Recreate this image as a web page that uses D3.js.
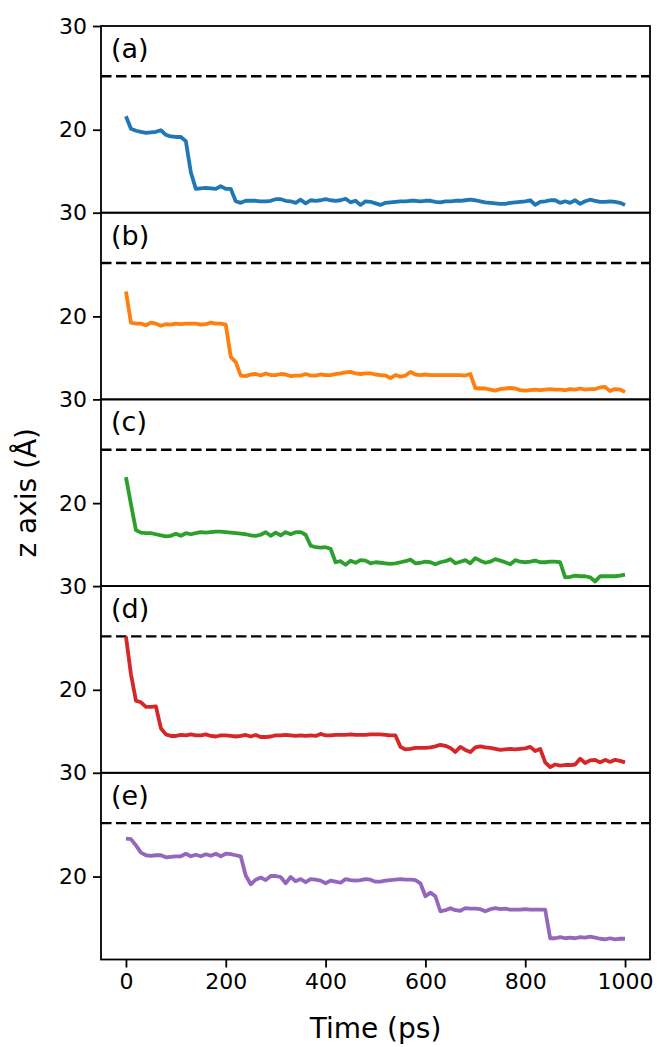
<!DOCTYPE html>
<html>
<head>
<meta charset="utf-8">
<script src="https://cdn.jsdelivr.net/npm/d3@7"></script>
<style>
  body { margin: 0; background: #fff; }
  svg { display: block; }
  text { font-family: "DejaVu Sans", sans-serif; fill: #000; }
</style>
</head>
<body>
<svg id="chart" width="659" height="1047"></svg>
<script>
// time axis, one sample every 10 ps
const time = d3.range(0, 1001, 10);

// z position (Å) of each run
const zA = [21.3, 20.1, 19.9, 19.8, 19.7, 19.75, 19.8, 19.95, 19.5, 19.35, 19.3,
  19.3, 18.9, 15.9, 14.3, 14.35, 14.4, 14.35, 14.3, 14.55, 14.3,
  14.3, 13.1, 12.95, 13.15, 13.15, 13.15, 13.1, 13.1, 13.15, 13.3,
  13.3, 13.15, 13.1, 12.95, 13.25, 12.9, 13.2, 13.15, 13.2, 13.3,
  13.2, 13.15, 13.2, 13.35, 13.0, 13.15, 12.75, 13.1, 13.05, 12.9,
  12.75, 12.95, 13.0, 13.05, 13.1, 13.1, 13.15, 13.15, 13.1, 13.15,
  13.15, 13.05, 13.0, 13.1, 13.1, 13.15, 13.15, 13.2, 13.25, 13.2,
  13.1, 13.0, 12.95, 12.9, 12.85, 12.85, 12.95, 13.0, 13.05, 13.1,
  13.2, 12.75, 13.05, 13.1, 13.2, 13.2, 12.95, 13.1, 12.95, 13.2,
  12.85, 13.1, 13.25, 13.15, 13.05, 13.05, 13.1, 13.05, 12.95, 12.75];

const zB = [22.4, 19.4, 19.3, 19.3, 19.15, 19.4, 19.3, 19.1, 19.25, 19.2, 19.3,
  19.25, 19.3, 19.3, 19.3, 19.2, 19.25, 19.4, 19.3, 19.3, 19.2,
  16.1, 15.6, 14.3, 14.25, 14.4, 14.45, 14.3, 14.5, 14.35, 14.35,
  14.45, 14.4, 14.25, 14.3, 14.3, 14.45, 14.3, 14.3, 14.4, 14.35,
  14.35, 14.45, 14.5, 14.6, 14.65, 14.5, 14.45, 14.5, 14.5, 14.4,
  14.35, 14.3, 14.05, 14.35, 14.2, 14.3, 14.65, 14.4, 14.35, 14.4,
  14.35, 14.35, 14.35, 14.35, 14.35, 14.35, 14.35, 14.3, 14.45, 13.1,
  13.05, 13.05, 12.95, 12.85, 13.0, 13.05, 13.1, 13.05, 12.9, 12.85,
  12.9, 12.95, 12.9, 12.95, 13.0, 12.95, 12.95, 12.9, 13.0, 12.95,
  13.05, 12.95, 13.0, 13.0, 13.15, 13.2, 12.8, 13.0, 12.95, 12.7];

const zC = [22.5, 19.9, 17.4, 17.15, 17.1, 17.1, 17.0, 16.9, 16.8, 16.85, 17.05,
  16.85, 17.1, 17.0, 17.1, 17.2, 17.15, 17.2, 17.25, 17.25, 17.2,
  17.15, 17.1, 17.05, 17.0, 16.9, 16.85, 16.95, 17.2, 16.85, 17.15,
  16.9, 17.2, 17.0, 17.2, 17.2, 16.95, 15.9, 15.75, 15.7, 15.75,
  15.6, 14.3, 14.4, 14.05, 14.45, 14.25, 14.5, 14.45, 14.2, 14.3,
  14.25, 14.2, 14.15, 14.2, 14.3, 14.4, 14.55, 14.2, 14.25, 14.35,
  14.3, 14.1, 14.3, 14.4, 14.6, 14.2, 14.35, 14.5, 14.2, 14.7,
  14.45, 14.25, 14.35, 14.6, 14.45, 14.3, 14.1, 14.5, 14.35, 14.3,
  14.35, 14.45, 14.3, 14.3, 14.35, 14.35, 14.3, 12.85, 12.9, 13.0,
  12.95, 12.95, 12.85, 12.45, 12.95, 12.95, 12.95, 12.95, 13.0, 13.1];

const zD = [25.15, 21.5, 18.95, 18.8, 18.35, 18.35, 18.4, 16.3, 15.7, 15.55, 15.55,
  15.65, 15.6, 15.7, 15.6, 15.6, 15.7, 15.55, 15.5, 15.6, 15.6,
  15.55, 15.5, 15.55, 15.65, 15.5, 15.65, 15.45, 15.45, 15.5, 15.6,
  15.6, 15.65, 15.6, 15.55, 15.6, 15.55, 15.6, 15.55, 15.75, 15.6,
  15.6, 15.65, 15.65, 15.65, 15.7, 15.65, 15.65, 15.65, 15.7, 15.7,
  15.7, 15.65, 15.6, 15.6, 14.5, 14.25, 14.3, 14.4, 14.4, 14.4,
  14.45, 14.55, 14.7, 14.6, 14.4, 14.0, 14.5, 14.2, 14.0, 14.45,
  14.55, 14.45, 14.4, 14.3, 14.2, 14.25, 14.3, 14.25, 14.3, 14.35,
  14.5, 14.1, 14.3, 13.0, 12.55, 12.8, 12.7, 12.75, 12.75, 12.8,
  13.35, 12.95, 13.2, 13.25, 13.0, 13.25, 13.05, 13.25, 13.15, 13.0];

const zE = [23.65, 23.6, 23.0, 22.3, 22.05, 22.0, 22.05, 22.05, 21.85, 21.9, 21.95,
  21.95, 22.2, 21.95, 22.1, 21.95, 22.15, 22.0, 22.2, 21.95, 22.2,
  22.15, 22.05, 21.95, 20.1, 19.25, 19.7, 19.9, 19.65, 20.05, 20.05,
  19.95, 19.35, 19.95, 19.55, 19.75, 19.45, 19.75, 19.7, 19.6, 19.35,
  19.6, 19.5, 19.4, 19.75, 19.65, 19.6, 19.65, 19.75, 19.7, 19.5,
  19.5, 19.6, 19.65, 19.7, 19.75, 19.7, 19.7, 19.65, 19.35, 18.1,
  18.45, 18.1, 16.65, 16.75, 16.95, 16.75, 16.7, 16.95, 16.9, 16.9,
  16.85, 16.65, 16.85, 16.95, 16.85, 16.9, 16.8, 16.8, 16.8, 16.85,
  16.8, 16.8, 16.8, 16.8, 14.05, 14.05, 14.15, 14.05, 14.1, 14.05,
  14.15, 14.1, 14.2, 14.1, 14.0, 13.95, 14.05, 13.95, 14.0, 14.0];

const runs = [zA, zB, zC, zD, zE];
const panelNames = ["(a)", "(b)", "(c)", "(d)", "(e)"];
const colours = ["#1f77b4", "#ff7f0e", "#2ca02c", "#d62728", "#9467bd"];
const xTicks = [0, 200, 400, 600, 800, 1000];
const yTicks = [20, 30];
const boundaryZ = 25.15;   // dashed reference level

const svg = d3.select("#chart");

const plotLeft = 101, plotRight = 650, plotTop = 26;
const panelH = 186.7;

const x = d3.scaleLinear().domain([-50, 1050]).range([plotLeft, plotRight]);
const y = d3.scaleLinear().domain([12, 30]).range([panelH, 0]);

const line = d3.line()
  .x((d, j) => x(time[j]))
  .y(d => y(d));

runs.forEach((run, i) => {
  const g = svg.append("g")
    .attr("transform", `translate(0,${plotTop + i * panelH})`);

  // dashed reference line
  g.append("line")
    .attr("x1", plotLeft).attr("x2", plotRight)
    .attr("y1", y(boundaryZ)).attr("y2", y(boundaryZ))
    .attr("stroke", "#000")
    .attr("stroke-width", 2.4)
    .attr("stroke-dasharray", "10.5,4.5");

  g.append("path")
    .datum(run)
    .attr("d", line)
    .attr("fill", "none")
    .attr("stroke", colours[i])
    .attr("stroke-width", 3.8)
    .attr("stroke-linejoin", "round");

  const yAxis = g.append("g")
    .attr("transform", `translate(${plotLeft},0)`)
    .call(d3.axisLeft(y).tickValues(yTicks).tickSize(8).tickPadding(6));
  yAxis.select(".domain").remove();
  yAxis.selectAll("line").attr("stroke-width", 1.8);
  yAxis.selectAll("text").attr("font-size", 22).attr("font-family", "DejaVu Sans");

  if (i === runs.length - 1) {
    const xAxis = g.append("g")
      .attr("transform", `translate(0,${panelH})`)
      .call(d3.axisBottom(x).tickValues(xTicks).tickFormat(d3.format("d"))
        .tickSize(8).tickPadding(6));
    xAxis.select(".domain").remove();
    xAxis.selectAll("line").attr("stroke-width", 1.8);
    xAxis.selectAll("text").attr("font-size", 22).attr("font-family", "DejaVu Sans");
  }

  // frame
  g.append("rect")
    .attr("x", plotLeft).attr("y", 0)
    .attr("width", plotRight - plotLeft).attr("height", panelH)
    .attr("fill", "none")
    .attr("stroke", "#000")
    .attr("stroke-width", 1.8);

  g.append("text")
    .attr("x", plotLeft + 10)
    .attr("y", 32)
    .attr("font-size", 27)
    .text(panelNames[i]);
});

svg.append("text")
  .attr("x", (plotLeft + plotRight) / 2)
  .attr("y", 1038)
  .attr("text-anchor", "middle")
  .attr("font-size", 28)
  .text("Time (ps)");

svg.append("text")
  .attr("transform", `translate(36,${plotTop + 2.5 * panelH}) rotate(-90)`)
  .attr("text-anchor", "middle")
  .attr("font-size", 28)
  .text("z axis (Å)");
</script>
</body>
</html>
